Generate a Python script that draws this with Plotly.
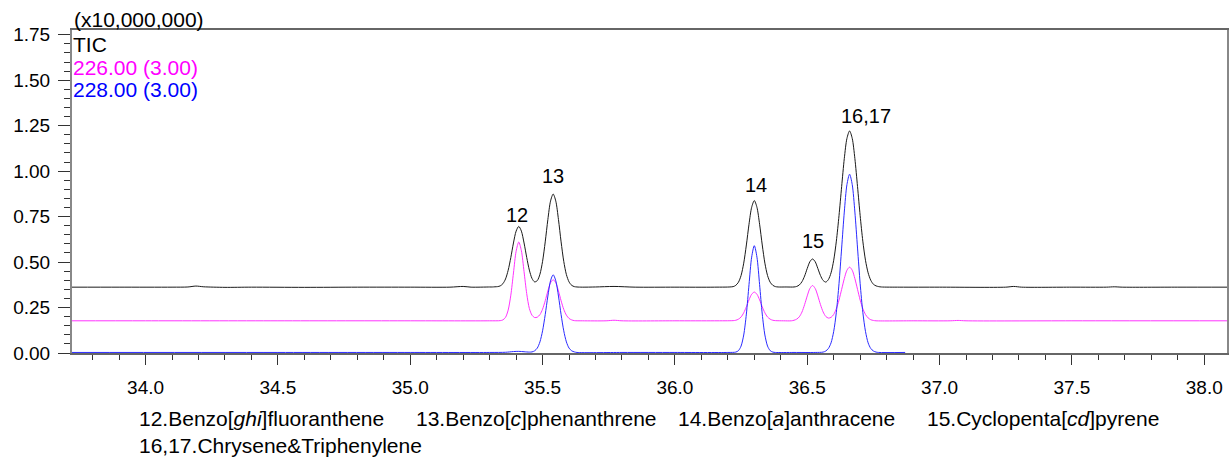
import plotly.graph_objects as go

# ---- data (time in min, intensity x10,000,000) ----
tic_points = [
    (33.72, 0.362), (33.90, 0.362), (34.10, 0.362), (34.16, 0.363), (34.19, 0.368), (34.22, 0.364),
    (34.30, 0.361), (34.40, 0.362), (34.60, 0.361), (34.80, 0.362), (35.00, 0.362), (35.15, 0.362),
    (35.20, 0.366), (35.23, 0.362), (35.30, 0.363),
    (35.31, 0.363), (35.32, 0.364), (35.33, 0.365), (35.34, 0.369), (35.35, 0.381), (35.36, 0.407),
    (35.37, 0.455), (35.38, 0.525), (35.39, 0.605), (35.40, 0.670), (35.41, 0.696), (35.42, 0.670),
    (35.43, 0.605), (35.44, 0.526), (35.45, 0.456), (35.46, 0.410), (35.47, 0.391), (35.48, 0.398),
    (35.49, 0.433), (35.50, 0.504), (35.51, 0.611), (35.52, 0.734), (35.53, 0.835), (35.54, 0.874),
    (35.55, 0.835), (35.56, 0.734), (35.57, 0.611), (35.58, 0.504), (35.59, 0.431), (35.60, 0.391),
    (35.61, 0.372), (35.62, 0.365), (35.63, 0.363), (35.65, 0.362),
    (35.70, 0.363), (35.77, 0.366), (35.85, 0.362), (36.00, 0.362), (36.15, 0.362),
    (36.22, 0.365), (36.23, 0.372), (36.24, 0.389), (36.25, 0.426), (36.26, 0.494), (36.27, 0.594),
    (36.28, 0.708), (36.29, 0.801), (36.30, 0.838), (36.31, 0.801), (36.32, 0.708), (36.33, 0.594),
    (36.34, 0.494), (36.35, 0.426), (36.36, 0.389), (36.37, 0.372), (36.38, 0.365), (36.39, 0.363),
    (36.42, 0.363), (36.45, 0.363), (36.46, 0.366), (36.47, 0.374), (36.48, 0.392), (36.49, 0.423),
    (36.50, 0.465), (36.51, 0.502), (36.52, 0.517), (36.53, 0.502), (36.54, 0.465), (36.55, 0.426),
    (36.56, 0.399), (36.57, 0.390), (36.58, 0.404), (36.59, 0.441), (36.60, 0.510), (36.61, 0.615),
    (36.62, 0.755), (36.63, 0.915), (36.64, 1.069), (36.65, 1.180), (36.66, 1.221), (36.67, 1.180),
    (36.68, 1.069), (36.69, 0.915), (36.70, 0.755), (36.71, 0.615), (36.72, 0.510), (36.73, 0.441),
    (36.74, 0.400), (36.75, 0.378), (36.76, 0.369), (36.77, 0.365), (36.78, 0.363),
    (36.85, 0.362), (37.00, 0.362), (37.25, 0.362), (37.28, 0.366), (37.31, 0.362), (37.50, 0.362),
    (37.63, 0.362), (37.66, 0.364), (37.69, 0.362), (37.90, 0.362), (38.09, 0.362),
]

mz226_points = [
    (33.72, 0.177), (34.00, 0.177), (34.50, 0.177), (35.00, 0.177), (35.30, 0.177), (35.34, 0.178),
    (35.35, 0.182), (35.36, 0.196), (35.37, 0.236), (35.38, 0.318), (35.39, 0.440), (35.40, 0.559),
    (35.41, 0.610), (35.42, 0.562), (35.43, 0.447), (35.44, 0.327), (35.45, 0.245), (35.46, 0.208),
    (35.47, 0.195), (35.48, 0.197), (35.49, 0.211), (35.50, 0.241), (35.51, 0.287), (35.52, 0.341),
    (35.53, 0.386), (35.54, 0.403), (35.55, 0.386), (35.56, 0.341), (35.57, 0.287), (35.58, 0.240),
    (35.59, 0.208), (35.60, 0.190), (35.61, 0.182), (35.62, 0.178), (35.65, 0.177),
    (35.74, 0.177), (35.77, 0.180), (35.80, 0.177), (36.00, 0.177), (36.15, 0.177),
    (36.22, 0.178), (36.23, 0.180), (36.24, 0.186), (36.25, 0.198), (36.26, 0.221), (36.27, 0.254),
    (36.28, 0.292), (36.29, 0.323), (36.30, 0.335), (36.31, 0.323), (36.32, 0.292), (36.33, 0.254),
    (36.34, 0.221), (36.35, 0.198), (36.36, 0.186), (36.37, 0.180), (36.38, 0.178), (36.41, 0.177),
    (36.44, 0.177), (36.45, 0.180), (36.46, 0.186), (36.47, 0.199), (36.48, 0.225), (36.49, 0.266),
    (36.50, 0.314), (36.51, 0.355), (36.52, 0.371), (36.53, 0.355), (36.54, 0.314), (36.55, 0.266),
    (36.56, 0.226), (36.57, 0.201), (36.58, 0.192), (36.59, 0.196), (36.60, 0.212), (36.61, 0.244),
    (36.62, 0.291), (36.63, 0.350), (36.64, 0.409), (36.65, 0.455), (36.66, 0.472), (36.67, 0.455),
    (36.68, 0.409), (36.69, 0.350), (36.70, 0.291), (36.71, 0.244), (36.72, 0.212), (36.73, 0.193),
    (36.74, 0.183), (36.75, 0.179), (36.76, 0.177),
    (36.90, 0.177), (37.04, 0.177), (37.07, 0.179), (37.10, 0.177), (37.50, 0.177), (38.09, 0.177),
]

mz228_points = [
    (33.72, 0.003), (34.50, 0.003), (35.00, 0.003), (35.30, 0.003), (35.36, 0.004), (35.39, 0.008),
    (35.41, 0.009), (35.43, 0.007), (35.45, 0.005), (35.46, 0.006), (35.47, 0.012), (35.48, 0.027),
    (35.49, 0.061), (35.50, 0.122), (35.51, 0.211), (35.52, 0.313), (35.53, 0.397), (35.54, 0.430),
    (35.55, 0.397), (35.56, 0.313), (35.57, 0.211), (35.58, 0.122), (35.59, 0.061), (35.60, 0.027),
    (35.61, 0.012), (35.62, 0.006), (35.63, 0.003),
    (35.80, 0.003), (36.00, 0.003), (36.20, 0.003),
    (36.23, 0.005), (36.24, 0.013), (36.25, 0.038), (36.26, 0.099), (36.27, 0.214), (36.28, 0.376),
    (36.29, 0.527), (36.30, 0.590), (36.31, 0.527), (36.32, 0.376), (36.33, 0.214), (36.34, 0.099),
    (36.35, 0.038), (36.36, 0.013), (36.37, 0.005), (36.38, 0.003),
    (36.45, 0.003), (36.53, 0.003), (36.56, 0.005), (36.57, 0.011), (36.58, 0.025), (36.59, 0.056),
    (36.60, 0.119), (36.61, 0.224), (36.62, 0.381), (36.63, 0.577), (36.64, 0.775), (36.65, 0.926),
    (36.66, 0.983), (36.67, 0.926), (36.68, 0.775), (36.69, 0.577), (36.70, 0.381), (36.71, 0.224),
    (36.72, 0.119), (36.73, 0.056), (36.74, 0.025), (36.75, 0.011), (36.76, 0.005), (36.77, 0.003),
    (36.87, 0.003),
]

trace_names = ["TIC", "226.00 (3.00)", "228.00 (3.00)"]
trace_colors = ["#1a1a1a", "#ff33ff", "#2a2aff"]

peak_labels = ["12", "13", "14", "15", "16,17"]
peak_label_x = [35.405, 35.540, 36.306, 36.520, 36.721]
peak_label_y = [0.761, 0.975, 0.926, 0.618, 1.305]

caption_items = [
    "12.Benzo[<i>ghi</i>]fluoranthene",
    "13.Benzo[<i>c</i>]phenanthrene",
    "14.Benzo[<i>a</i>]anthracene",
    "15.Cyclopenta[<i>cd</i>]pyrene",
    "16,17.Chrysene&amp;Triphenylene",
]

y_scale_label = "(x10,000,000)"

FONT = "Liberation Sans, Arial, sans-serif"

fig = go.Figure()
for pts, name, col in zip([tic_points, mz226_points, mz228_points], trace_names, trace_colors):
    xs = [p[0] for p in pts]
    ys = [p[1] for p in pts]
    fig.add_trace(go.Scatter(x=xs, y=ys, mode="lines", name=name,
                             line=dict(color=col, width=1, shape="spline", smoothing=0.8),
                             hoverinfo="skip"))

annotations = []
for txt, px, py in zip(peak_labels, peak_label_x, peak_label_y):
    annotations.append(dict(x=px, y=py, xref="x", yref="y", text=txt, showarrow=False,
                            xanchor="center", yanchor="middle",
                            font=dict(family=FONT, size=20, color="black")))

# legend-style labels in the upper-left corner
legend_y = [0.956, 0.884, 0.817]
for txt, col, ly in zip(trace_names, ["black", "#ff00ff", "#0000ff"], legend_y):
    annotations.append(dict(x=0.0, y=ly, xref="paper", yref="paper", text=txt, showarrow=False,
                            xanchor="left", yanchor="middle", xshift=-1,
                            font=dict(family=FONT, size=21, color=col)))

annotations.append(dict(x=0.0, y=1.031, xref="paper", yref="paper", text=y_scale_label,
                        showarrow=False, xanchor="left", yanchor="middle",
                        font=dict(family=FONT, size=21, color="black")))

cap_x = [0.0562, 0.2965, 0.5229, 0.7381, 0.0562]
cap_y = [-0.204, -0.204, -0.204, -0.204, -0.2866]
for txt, cx, cy in zip(caption_items, cap_x, cap_y):
    annotations.append(dict(x=cx, y=cy, xref="paper", yref="paper", text=txt, showarrow=False,
                            xanchor="left", yanchor="middle",
                            font=dict(family=FONT, size=21, color="black")))

fig.update_layout(
    width=1231, height=457,
    margin=dict(l=72, r=2, t=30, b=104),
    plot_bgcolor="white", paper_bgcolor="white",
    showlegend=False,
    font=dict(family=FONT, color="black"),
    annotations=annotations,
    xaxis=dict(
        range=[33.722, 38.086], tick0=34, dtick=0.5, tickformat=".1f",
        ticks="outside", ticklen=10, tickwidth=1, tickcolor="#333",
        showline=True, linecolor="#666", linewidth=1.5, mirror=True,
        showgrid=False, zeroline=False,
        tickfont=dict(family=FONT, size=19, color="black"),
        ticklabelstandoff=6,
        minor=dict(tick0=34, dtick=0.1, ticks="outside", ticklen=5, tickwidth=1,
                   tickcolor="#333", showgrid=False),
    ),
    yaxis=dict(
        range=[0, 1.776], tick0=0, dtick=0.25, tickformat=".2f",
        ticks="outside", ticklen=12, tickwidth=1, tickcolor="#333",
        showline=True, linecolor="#888", linewidth=2, mirror=True,
        showgrid=False, zeroline=False,
        tickfont=dict(family=FONT, size=19, color="black"),
        ticklabelstandoff=4,
        minor=dict(tick0=0, dtick=0.05, ticks="outside", ticklen=6, tickwidth=1,
                   tickcolor="#333", showgrid=False),
    ),
)

fig.write_html("out.html")
